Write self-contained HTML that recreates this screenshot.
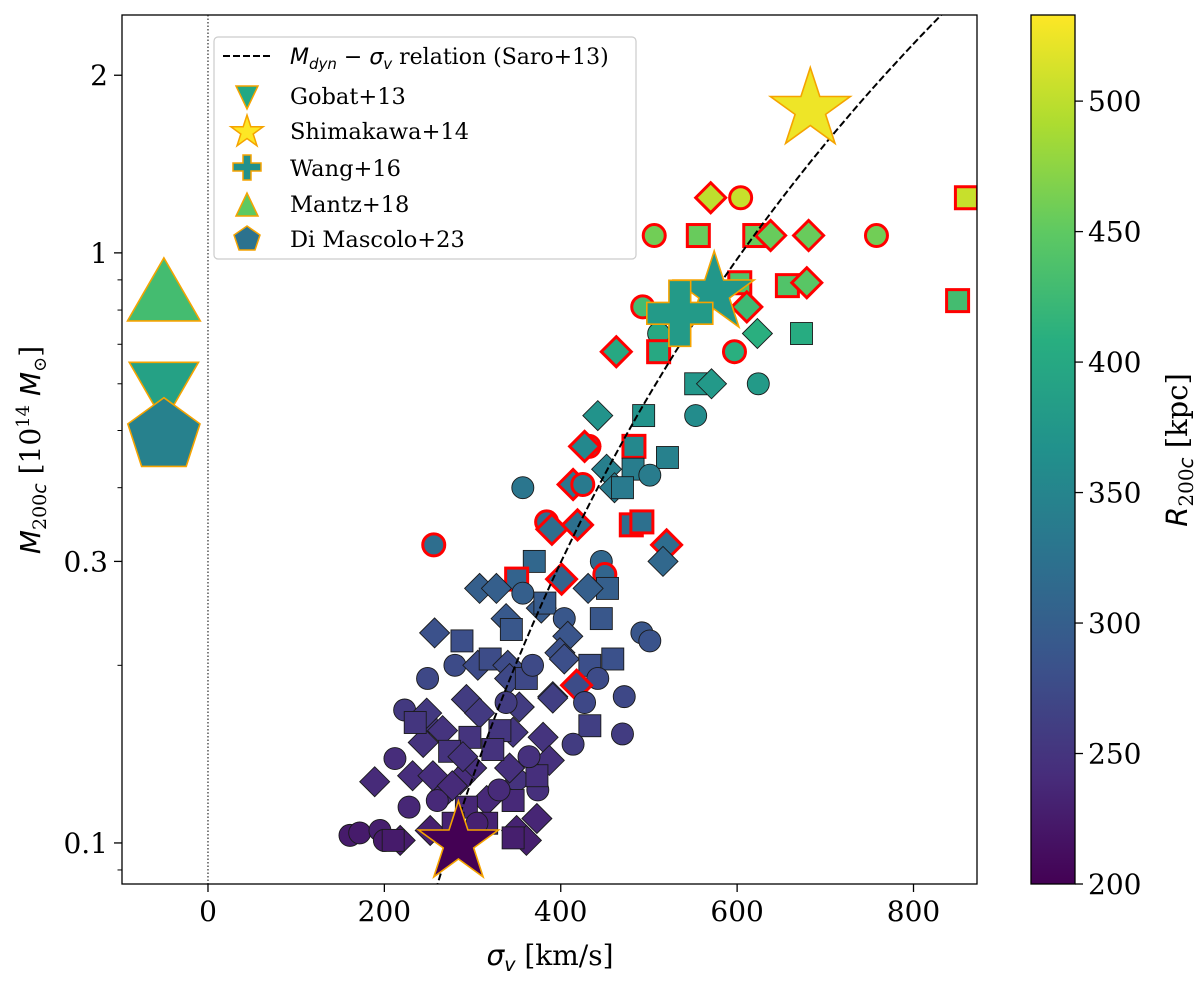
<!DOCTYPE html>
<html><head><meta charset="utf-8">
<style>
html,body{margin:0;padding:0;background:#fff;width:1200px;height:986px;overflow:hidden;}
svg{display:block;position:absolute;left:0;top:0;overflow:hidden;font-family:"DejaVu Serif","Liberation Serif",serif;}
</style></head>
<body>
<svg id="chart" width="1200" height="986" viewBox="0 0 1200 986" xmlns="http://www.w3.org/2000/svg">
<defs>
<clipPath id="plotclip"><rect x="122" y="15" width="855" height="869"/></clipPath>
<linearGradient id="cbgrad" x1="0" y1="1" x2="0" y2="0">
<stop offset="0" stop-color="#440154"/><stop offset="0.125" stop-color="#472d7b"/><stop offset="0.25" stop-color="#3b528b"/><stop offset="0.375" stop-color="#2c728e"/><stop offset="0.5" stop-color="#21918c"/><stop offset="0.625" stop-color="#28ae80"/><stop offset="0.75" stop-color="#5ec962"/><stop offset="0.875" stop-color="#addc30"/><stop offset="1" stop-color="#fde725"/>
</linearGradient>
</defs>
<g id="plot" clip-path="url(#plotclip)"></g>
<g id="axes"></g>
<text x="550" y="965" text-anchor="middle" font-size="28"><tspan font-style="italic" font-family="DejaVu Sans">σ</tspan><tspan font-style="italic" font-size="19" dy="6" font-family="DejaVu Sans">v</tspan><tspan dy="-6"> [km/s]</tspan></text>
<text transform="translate(40,450) rotate(-90)" text-anchor="middle" font-size="28"><tspan font-style="italic" font-family="DejaVu Sans">M</tspan><tspan font-size="19" dy="6">200</tspan><tspan font-size="19" font-style="italic" font-family="DejaVu Sans">c</tspan><tspan dy="-6"> [10</tspan><tspan font-size="18" dy="-11">14</tspan><tspan dy="11" font-style="italic" font-family="DejaVu Sans"> M</tspan><tspan font-size="18" dy="6">⊙</tspan><tspan dy="-6">]</tspan></text>
<text transform="translate(1187,450) rotate(-90)" text-anchor="middle" font-size="29"><tspan font-style="italic" font-family="DejaVu Sans">R</tspan><tspan font-size="20" dy="6">200</tspan><tspan font-size="20" font-style="italic" font-family="DejaVu Sans">c</tspan><tspan dy="-6"> [kpc]</tspan></text>
<g>
<rect x="214" y="37" width="422" height="222" rx="4" fill="#fff" fill-opacity="0.85" stroke="#ccc" stroke-width="1.2"/>
<line x1="223" y1="56" x2="270" y2="56" stroke="#000" stroke-width="2" stroke-dasharray="7,3"/>
<text x="290" y="64" font-size="22"><tspan font-style="italic" font-family="DejaVu Sans">M</tspan><tspan font-size="15" dy="5" font-style="italic" font-family="DejaVu Sans">dyn</tspan><tspan dy="-5" font-family="DejaVu Sans"> − </tspan><tspan font-style="italic" font-family="DejaVu Sans">σ</tspan><tspan font-size="15" dy="5" font-style="italic" font-family="DejaVu Sans">v</tspan><tspan dy="-5"> relation (Saro+13)</tspan></text>
<polygon points="236,86 258,86 247,109" fill="#22a884" stroke="#f5a300" stroke-width="1.5"/>
<text x="290" y="104" font-size="22.5">Gobat+13</text>
<polygon id="legstar" fill="#fde725" stroke="#f5a300" stroke-width="1.5" points=""/>
<text x="290" y="139" font-size="22.5">Shimakawa+14</text>
<polygon points="243,155 251,155 251,163 261,163 261,171 251,171 251,180 243,180 243,171 233,171 233,163 243,163" fill="#21918c" stroke="#f5a300" stroke-width="1.5"/>
<text x="290" y="176" font-size="22.5">Wang+16</text>
<polygon points="247,193 236,216 258,216" fill="#5ec962" stroke="#f5a300" stroke-width="1.5"/>
<text x="290" y="212" font-size="22.5">Mantz+18</text>
<polygon points="247,226 260,235 255,250 239,250 234,235" fill="#2c728e" stroke="#f5a300" stroke-width="1.5"/>
<text x="290" y="247" font-size="22.5">Di Mascolo+23</text>
</g>
</svg>
<script>
const sigma=[570,604,506,556,620,638,681,758,860,850,603,657,679,493,511,611,623,673,511,463,597,553,571,624,442,494,553,432,427,483,521,482,501,452,461,470,414,425,357,384,390,419,480,492,520,516,256,446,370,450,401,453,431,350,308,327,357,338,344,378,382,404,446,408,399,404,433,459,442,418,427,472,391,492,501,257,288,249,280,306,320,340,342,361,368,433,470,414,374,350,161,172,195,200,212,223,248,189,248,266,244,293,308,353,391,346,380,387,342,299,232,269,316,218,252,350,373,361,286,255,297,274,346,373,331,323,293,316,346,210,278,228,260,330,364,289,235,338,277,305];
const mass=[1.24,1.24,1.07,1.07,1.07,1.07,1.07,1.07,1.24,0.83,0.89,0.88,0.89,0.81,0.73,0.81,0.73,0.73,0.68,0.68,0.68,0.60,0.60,0.60,0.53,0.53,0.53,0.47,0.47,0.47,0.45,0.43,0.42,0.43,0.40,0.40,0.405,0.405,0.40,0.35,0.34,0.346,0.346,0.35,0.32,0.30,0.32,0.30,0.30,0.285,0.28,0.27,0.27,0.28,0.27,0.27,0.265,0.24,0.23,0.25,0.255,0.24,0.24,0.224,0.21,0.205,0.20,0.205,0.19,0.185,0.173,0.177,0.177,0.227,0.22,0.227,0.22,0.19,0.20,0.20,0.205,0.20,0.19,0.19,0.20,0.158,0.153,0.147,0.123,0.128,0.103,0.104,0.105,0.101,0.139,0.168,0.16,0.127,0.166,0.155,0.148,0.175,0.166,0.17,0.176,0.154,0.151,0.138,0.134,0.134,0.13,0.122,0.118,0.101,0.105,0.105,0.11,0.101,0.128,0.13,0.151,0.143,0.118,0.13,0.155,0.144,0.115,0.108,0.102,0.101,0.108,0.115,0.118,0.123,0.14,0.14,0.16,0.173,0.125,0.108];
const rkpc=[500,505,460,455,455,455,455,460,505,430,440,440,445,430,400,425,410,405,400,400,410,375,378,380,370,370,360,350,355,355,345,340,338,342,335,335,330,335,330,320,320,322,320,322,318,312,320,310,310,308,305,300,300,305,300,300,300,292,290,295,295,290,290,287,282,280,280,282,275,276,272,272,270,288,285,282,280,272,275,275,276,275,272,272,274,262,258,258,245,248,225,225,228,224,242,255,252,240,255,250,248,258,256,258,262,252,250,246,245,244,243,240,238,226,230,232,235,228,242,243,250,248,238,244,252,248,236,232,228,225,232,236,238,240,246,247,252,258,240,230];
const shapes="DoossDDoss"+"ssDooDDssD"+"osDoDsooDs"+"ssoDDsDooo"+"DDssDDooso"+"DsDsDDoDsD"+"sosDDDssoD"+"ooDooDsooD"+"sDDsoso"+"ooo"+"ooooooo"+"DDDDDDDDDDDDDDDDDDDDDDD"+"sssssssssss"+"oooo"+"DsoDo";
const redEdge=("11111111111111"+"0"+"1"+"00"+"111"+"000000"+"111"+"000000"+"11"+"0"+"111111"+"0"+"1"+"00"+"11"+"00"+"1"+"000000000000000"+"1").padEnd(140,"0");
const specialNames=["Gobat+13","Shimakawa+14","Shimakawa+14","Shimakawa+14","Wang+16","Mantz+18","Di Mascolo+23"];
const specialSigma=[-50,683,284,574,535,-50,-50];
const specialMass=[0.585,1.75,0.100,0.855,0.79,0.86,0.49];
const specialR=[390,525,200,375,380,430,345];
const specialMarker=["v","*","*","*","P","^","p"];
const xTicks=[0,200,400,600,800];
const yTicks=[0.1,0.3,1,2];
const yTickLabels=["0.1","0.3","1","2"];
const yMinor=[0.09,0.2,0.4,0.5,0.6,0.7,0.8,0.9];
const cbTicks=[200,250,300,350,400,450,500];
const relationA=[1.0];
const relationPivot=[605];
const relationSlope=[2.92];

const NS="http://www.w3.org/2000/svg";
const L=122,R=977,T=15,B=884, XMIN=-97.5, XMAX=872, YLO=Math.log10(2.53), YHI=Math.log10(0.0852);
function X(s){return L+(s-XMIN)/(XMAX-XMIN)*(R-L);}
function Y(m){return T+(Math.log10(m)-YLO)/(YHI-YLO)*(B-T);}
const CMIN=200,CMAX=533;
const stops=["#440154","#472d7b","#3b528b","#2c728e","#21918c","#28ae80","#5ec962","#addc30","#fde725"];
function hex(h){return [1,3,5].map(i=>parseInt(h.substr(i,2),16));}
function cmap(v){let t=Math.max(0,Math.min(1,(v-CMIN)/(CMAX-CMIN)))*8;let i=Math.min(7,Math.floor(t));let f=t-i;const a=hex(stops[i]),b=hex(stops[i+1]);return "rgb("+a.map((c,k)=>Math.round(c+(b[k]-c)*f)).join(",")+")";}
function el(tag,attrs,parent){const e=document.createElementNS(NS,tag);for(const k in attrs)e.setAttribute(k,attrs[k]);parent.appendChild(e);return e;}
const plot=document.getElementById('plot'),axes=document.getElementById('axes');

let zl=el('line',{x1:X(0),x2:X(0),y1:T,y2:B,stroke:'#000','stroke-width':1,'stroke-dasharray':'1.5,2'},plot);



function starPts(cx,cy,ro){const ri=ro*0.382;let p=[];for(let i=0;i<10;i++){const a=-Math.PI/2+i*Math.PI/5;const r=i%2?ri:ro;p.push((cx+r*Math.cos(a)).toFixed(1)+","+(cy+r*Math.sin(a)).toFixed(1));}return p.join(" ");}
function polyPts(cx,cy,r,n,rot){let p=[];for(let i=0;i<n;i++){const a=rot+i*2*Math.PI/n;p.push((cx+r*Math.cos(a)).toFixed(1)+","+(cy+r*Math.sin(a)).toFixed(1));}return p.join(" ");}
function plusPts(cx,cy,h,w){return [[-w,-h],[w,-h],[w,-w],[h,-w],[h,w],[w,w],[w,h],[-w,h],[-w,w],[-h,w],[-h,-w],[-w,-w]].map(q=>(cx+q[0])+","+(cy+q[1])).join(" ");}
function marker(kind,cx,cy,size,fill,stroke,sw,parent){
  if(kind==='o')return el('circle',{cx,cy,r:size,fill,stroke,'stroke-width':sw},parent);
  if(kind==='s')return el('rect',{x:cx-size,y:cy-size,width:2*size,height:2*size,fill,stroke,'stroke-width':sw},parent);
  if(kind==='D')return el('polygon',{points:polyPts(cx,cy,size,4,0),fill,stroke,'stroke-width':sw},parent);
  if(kind==='*')return el('polygon',{points:starPts(cx,cy,size),fill,stroke,'stroke-width':sw},parent);
  if(kind==='^')return el('polygon',{points:polyPts(cx,cy+size*0.2,size,3,-Math.PI/2),fill,stroke,'stroke-width':sw},parent);
  if(kind==='v')return el('polygon',{points:polyPts(cx,cy-size*0.2,size,3,Math.PI/2),fill,stroke,'stroke-width':sw},parent);
  if(kind==='p')return el('polygon',{points:polyPts(cx,cy,size,5,-Math.PI/2),fill,stroke,'stroke-width':sw},parent);
  if(kind==='P')return el('polygon',{points:plusPts(cx,cy,size,size*0.33),fill,stroke,'stroke-width':sw},parent);
}
for(let i=0;i<sigma.length;i++){
  const sh=shapes[i]||'o', red=redEdge[i]==='1';
  const sz= sh==='o'?11: sh==='s'?11:15;
  const m=marker(sh,X(sigma[i]),Y(mass[i]),sz,cmap(rkpc[i]),red?'#ff0000':'#1a1a1a',red?3:0.9,plot);
  
  
}
let d="";for(let s=255;s<=880;s+=5){const m=relationA[0]*Math.pow(s/relationPivot[0],relationSlope[0]);d+=(d?"L":"M")+X(s).toFixed(1)+","+Y(m).toFixed(1);}
let rl=el('path',{d,fill:'none',stroke:'#000','stroke-width':2,'stroke-dasharray':'7,3'},plot);


const specSize=[40,42,42,42,33,42,38];
for(let i=0;i<specialNames.length;i++){
  const m=marker(specialMarker[i],X(specialSigma[i]),Y(specialMass[i]),specSize[i],cmap(specialR[i]),'#f5a300',1.6,plot);
  
  
}
let fr=el('rect',{x:L,y:T,width:R-L,height:B-T,fill:'none',stroke:'#000','stroke-width':1.3},axes);


xTicks.forEach(v=>{const x=X(v);el('line',{x1:x,x2:x,y1:B,y2:B+8,stroke:'#000','stroke-width':1.3},axes);
  const t=el('text',{x,y:B+37,'text-anchor':'middle','font-size':28},axes);t.textContent=v;
  
  });
yTicks.forEach((v,i)=>{const y=Y(v);el('line',{x1:L-8,x2:L,y1:y,y2:y,stroke:'#000','stroke-width':1.3},axes);
  const t=el('text',{x:L-14,y:y+10,'text-anchor':'end','font-size':28},axes);t.textContent=yTickLabels[i];
  
  });
yMinor.forEach(v=>{const y=Y(v);el('line',{x1:L-4.5,x2:L,y1:y,y2:y,stroke:'#000','stroke-width':1},axes);});
let cb=el('rect',{x:1031,y:15,width:44,height:869,fill:'url(#cbgrad)',stroke:'#000','stroke-width':1.3},axes);


cbTicks.forEach(v=>{const y=884-(v-CMIN)/(CMAX-CMIN)*869;el('line',{x1:1075,x2:1083,y1:y,y2:y,stroke:'#000','stroke-width':1.3},axes);
  const t=el('text',{x:1088,y:y+10,'font-size':28},axes);t.textContent=v;
  
  });
(function(){let p=[];for(let i=0;i<10;i++){const a=-Math.PI/2+i*Math.PI/5;const r=i%2?6.5:17;p.push((247+r*Math.cos(a)).toFixed(1)+","+(132+r*Math.sin(a)).toFixed(1));}document.getElementById('legstar').setAttribute('points',p.join(' '));})();
</script>
</body></html>
